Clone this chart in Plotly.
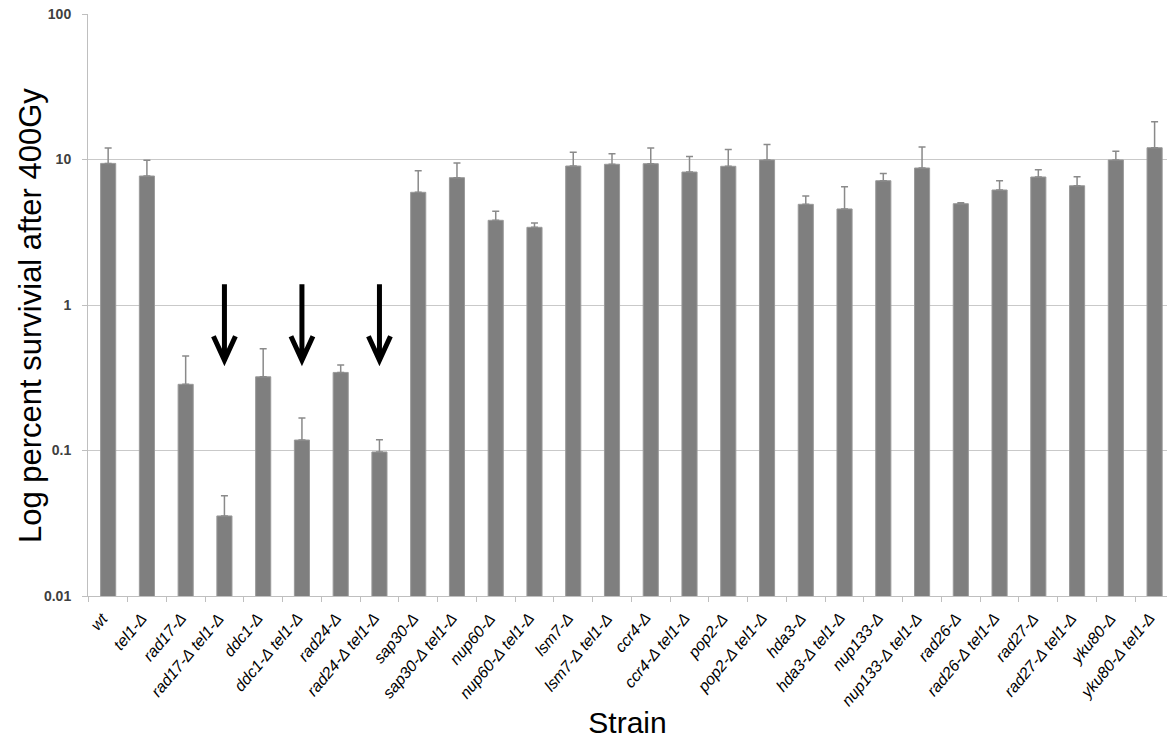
import plotly.graph_objects as go

# Strains and measured survival (percent) after 400 Gy, with upper error
strains = [
    "wt", "tel1-Δ", "rad17-Δ", "rad17-Δ tel1-Δ", "ddc1-Δ", "ddc1-Δ tel1-Δ",
    "rad24-Δ", "rad24-Δ tel1-Δ", "sap30-Δ", "sap30-Δ tel1-Δ", "nup60-Δ",
    "nup60-Δ tel1-Δ", "lsm7-Δ", "lsm7-Δ tel1-Δ", "ccr4-Δ", "ccr4-Δ tel1-Δ",
    "pop2-Δ", "pop2-Δ tel1-Δ", "hda3-Δ", "hda3-Δ tel1-Δ", "nup133-Δ",
    "nup133-Δ tel1-Δ", "rad26-Δ", "rad26-Δ tel1-Δ", "rad27-Δ", "rad27-Δ tel1-Δ",
    "yku80-Δ", "yku80-Δ tel1-Δ",
]
survival = [
    9.4, 7.7, 0.285, 0.0355, 0.321, 0.118, 0.344, 0.0977, 5.95, 7.5, 3.82,
    3.42, 9.02, 9.27, 9.36, 8.2, 8.98, 9.93, 4.92, 4.57, 7.15, 8.74, 4.97,
    6.17, 7.58, 6.6, 9.93, 12.05,
]
error_plus = [
    2.6, 2.2, 0.161, 0.0134, 0.18, 0.049, 0.043, 0.021, 2.42, 1.96, 0.59,
    0.24, 2.18, 1.69, 2.64, 2.3, 2.72, 2.77, 0.69, 1.93, 0.85, 3.46, 0.08,
    0.97, 0.93, 1.02, 1.47, 6.15,
]
y_tick_values = [0.01, 0.1, 1, 10, 100]
y_tick_labels = ["0.01", "0.1", "1", "10", "100"]

# Double mutants highlighted with arrows
highlighted = ["rad17-Δ tel1-Δ", "ddc1-Δ tel1-Δ", "rad24-Δ tel1-Δ"]

fig = go.Figure()
fig.add_trace(go.Bar(
    x=strains,
    y=survival,
    width=0.39,
    marker=dict(color="#7f7f7f", line=dict(color="#9a9a9a", width=1)),
    error_y=dict(type="data", symmetric=False, array=error_plus,
                 arrayminus=[0] * len(error_plus),
                 color="#8a8a8a", thickness=1.5, width=3.5),
    showlegend=False,
))

# Slanted italic strain names under each bar
for s in strains:
    fig.add_annotation(
        x=s, y=0, xref="x", yref="paper",
        text=s, showarrow=False, textangle=-50,
        xanchor="right", yanchor="top", xshift=6, yshift=-11,
        font=dict(family="Liberation Sans, Arial, sans-serif", size=16,
                  color="#000000", style="italic"),
    )

# Y-axis title
fig.add_annotation(
    x=0, y=0.481, xref="paper", yref="paper",
    text="Log percent survivial after 400Gy", showarrow=False,
    textangle=-90, xanchor="center", yanchor="middle", xshift=-58,
    font=dict(family="Liberation Sans, Arial, sans-serif", size=31,
              color="#000000"),
)

# Downward arrows (shaft + open chevron head) drawn in pixel units
arrow_path = "M 0,0 L 0,76 M -11,24 L 0,0 L 11,24"
for s in highlighted:
    fig.add_shape(
        type="path", path=arrow_path,
        xref="x", xsizemode="pixel", xanchor=s,
        yref="paper", ysizemode="pixel", yanchor=0.405,
        line=dict(color="black", width=5),
    )

fig.update_layout(
    width=1167, height=746,
    margin=dict(l=88, r=0, t=14, b=150),
    paper_bgcolor="white", plot_bgcolor="white",
    font=dict(family="Liberation Sans, Arial, sans-serif", color="#000000"),
    bargap=0.6,
)
fig.update_xaxes(
    type="category",
    range=[-0.52, 27.32],
    showline=True, linecolor="#bfbfbf", linewidth=1,
    ticks="outside", tickson="boundaries", ticklen=5, tickcolor="#bfbfbf",
    showticklabels=False,
    showgrid=False,
    title=dict(text="Strain", font=dict(size=30), standoff=115),
)
fig.update_yaxes(
    type="log", range=[-2, 2],
    tickvals=y_tick_values, ticktext=y_tick_labels,
    showline=True, linecolor="#bfbfbf", linewidth=1,
    ticks="outside", ticklen=5, tickcolor="#bfbfbf",
    ticklabelstandoff=8,
    tickfont=dict(family="Liberation Sans, Arial, sans-serif", size=14,
                  color="#404040", weight="bold"),
    showgrid=True, gridcolor="#c9c9c9", gridwidth=1,
    zeroline=False,
)

fig.write_html("out.html")
